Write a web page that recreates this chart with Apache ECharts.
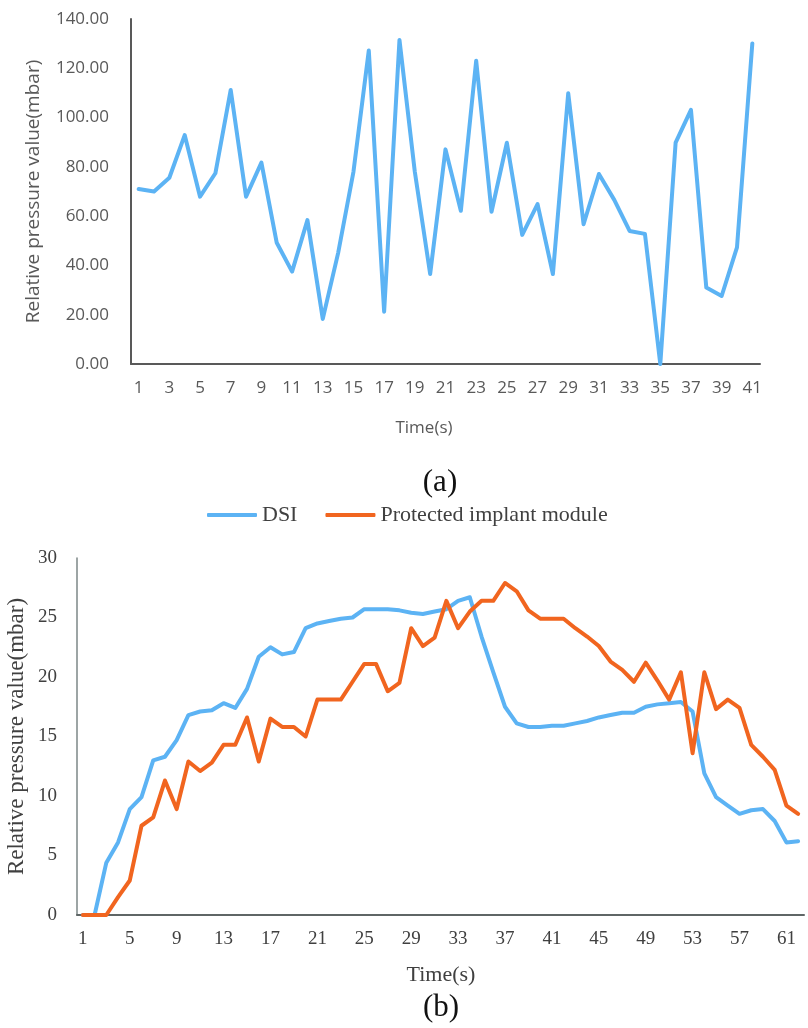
<!DOCTYPE html>
<html>
<head>
<meta charset="utf-8">
<script src="https://cdn.jsdelivr.net/npm/echarts@6/dist/echarts.min.js"></script>
<style>
html,body{margin:0;padding:0;background:#fff;}
#c{width:808px;height:1028px;}
</style>
</head>
<body>
<div id="c"></div>
<script>
// ---- Data ----
var timeA = [];
for (var i = 1; i <= 41; i++) timeA.push(String(i));
var pressureA = [71.0, 70.0, 75.6, 92.9, 67.9, 77.4, 111.2, 67.9, 81.7, 49.2,
  37.5, 58.4, 18.3, 45.0, 78.0, 127.2, 21.2, 131.5, 78.0, 36.5,
  87.1, 62.2, 123.1, 61.8, 89.8, 52.4, 64.9, 36.5, 109.9, 56.7,
  77.1, 66.6, 54.0, 52.8, 0.0, 89.8, 103.1, 31.0, 27.6, 47.3, 130.1];

var timeB = [];
for (var j = 1; j <= 62; j++) timeB.push(String(j));
var dsi = [0, 0, 4.4, 6.1, 8.9, 9.9, 13.0, 13.3, 14.7, 16.8,
  17.1, 17.2, 17.8, 17.4, 19.0, 21.7, 22.5, 21.9, 22.1, 24.1,
  24.5, 24.7, 24.9, 25.0, 25.7, 25.7, 25.7, 25.6, 25.4, 25.3,
  25.5, 25.7, 26.4, 26.7, 23.4, 20.4, 17.5, 16.1, 15.8, 15.8,
  15.9, 15.9, 16.1, 16.3, 16.6, 16.8, 17.0, 17.0, 17.5, 17.7,
  17.8, 17.9, 17.1, 11.9, 9.9, 9.2, 8.5, 8.8, 8.9, 7.9,
  6.1, 6.2];
var implant = [0, 0, 0, 1.5, 2.9, 7.5, 8.2, 11.3, 8.9, 12.9,
  12.1, 12.8, 14.3, 14.3, 16.6, 12.9, 16.5, 15.8, 15.8, 15.0,
  18.1, 18.1, 18.1, 19.6, 21.1, 21.1, 18.8, 19.5, 24.1, 22.6,
  23.3, 26.4, 24.1, 25.5, 26.4, 26.4, 27.9, 27.2, 25.6, 24.9,
  24.9, 24.9, 24.1, 23.4, 22.6, 21.3, 20.6, 19.6, 21.2, 19.7,
  18.1, 20.4, 13.6, 20.4, 17.3, 18.1, 17.4, 14.3, 13.3, 12.2,
  9.2, 8.5];

var seriesNames = ['DSI', 'Protected implant module'];
var yNameA = 'Relative pressure value(mbar)';
var yNameB = 'Relative pressure value(mbar)';

// ---- Styles ----
var BLUE = '#5cb3f4';
var ORANGE = '#f1651f';
var SANS = '"Open Sans", "Liberation Sans", sans-serif';
var SERIF = '"Liberation Serif", "DejaVu Serif", serif';

var chart = echarts.init(document.getElementById('c'), null, {renderer: 'canvas'});
chart.setOption({
  backgroundColor: '#ffffff',
  animation: false,
  legend: {
    data: seriesNames,
    left: 202, top: 499,
    icon: 'roundRect',
    itemWidth: 50, itemHeight: 4,
    itemGap: 28,
    textStyle: {fontFamily: SERIF, fontSize: 22, color: '#404040'}
  },
  grid: [
    {left: 131, right: 48, top: 19, bottom: 664, outerBoundsMode: 'none', containLabel: false},
    {left: 77, right: 4, top: 558, bottom: 113, outerBoundsMode: 'none', containLabel: false}
  ],
  xAxis: [
    {
      type: 'category', gridIndex: 0, data: timeA, boundaryGap: true,
      axisLine: {lineStyle: {color: '#595959', width: 2}},
      axisTick: {show: false},
      axisLabel: {interval: 1, margin: 16, fontFamily: SANS, fontSize: 17, color: '#595959'}
    },
    {
      type: 'category', gridIndex: 1, data: timeB, boundaryGap: true,
      axisLine: {lineStyle: {color: '#5f6666', width: 2}},
      axisTick: {show: false},
      axisLabel: {interval: 3, margin: 15, fontFamily: SERIF, fontSize: 19, color: '#404040'}
    }
  ],
  yAxis: [
    {
      type: 'value', gridIndex: 0, min: 0, max: 140, interval: 20,
      name: yNameA, nameLocation: 'middle', nameGap: 88, nameRotate: 90,
      nameMoveOverlap: false,
      nameTextStyle: {fontFamily: SANS, fontSize: 19, color: '#595959'},
      axisLine: {show: true, lineStyle: {color: '#595959', width: 2}},
      axisTick: {show: false},
      splitLine: {show: false},
      axisLabel: {margin: 22, fontFamily: SANS, fontSize: 17, color: '#595959',
        formatter: function (v) { return v.toFixed(2); }}
    },
    {
      type: 'value', gridIndex: 1, min: 0, max: 30, interval: 5,
      name: yNameB, nameLocation: 'middle', nameGap: 49, nameRotate: 90,
      nameMoveOverlap: false,
      nameTextStyle: {fontFamily: SERIF, fontSize: 23, color: '#404040'},
      axisLine: {show: true, lineStyle: {color: '#7d8787', width: 1.5}},
      axisTick: {show: false},
      splitLine: {show: false},
      axisLabel: {margin: 20, fontFamily: SERIF, fontSize: 19, color: '#404040'}
    }
  ],
  series: [
    {
      type: 'line', xAxisIndex: 0, yAxisIndex: 0, data: pressureA,
      symbol: 'none', lineStyle: {color: BLUE, width: 4, join: 'round', cap: 'round'},
      itemStyle: {color: BLUE}
    },
    {
      name: seriesNames[0], type: 'line', xAxisIndex: 1, yAxisIndex: 1, data: dsi,
      symbol: 'none', lineStyle: {color: BLUE, width: 4, join: 'round', cap: 'round'},
      itemStyle: {color: BLUE}
    },
    {
      name: seriesNames[1], type: 'line', xAxisIndex: 1, yAxisIndex: 1, data: implant,
      symbol: 'none', lineStyle: {color: ORANGE, width: 4, join: 'round', cap: 'round'},
      itemStyle: {color: ORANGE}
    }
  ],
  graphic: [
    {type: 'text', style: {x: 424, y: 428, text: 'Time(s)', fontFamily: SANS, fontSize: 17, fill: '#595959', align: 'center', verticalAlign: 'middle'}},
    {type: 'text', style: {x: 440, y: 483, text: '(a)', fontFamily: SERIF, fontSize: 31, fill: '#111', align: 'center', verticalAlign: 'middle'}},
    {type: 'text', style: {x: 441, y: 975, text: 'Time(s)', fontFamily: SERIF, fontSize: 22, fill: '#404040', align: 'center', verticalAlign: 'middle'}},
    {type: 'text', style: {x: 441, y: 1008, text: '(b)', fontFamily: SERIF, fontSize: 31, fill: '#111', align: 'center', verticalAlign: 'middle'}}
  ]
});
</script>
</body>
</html>
